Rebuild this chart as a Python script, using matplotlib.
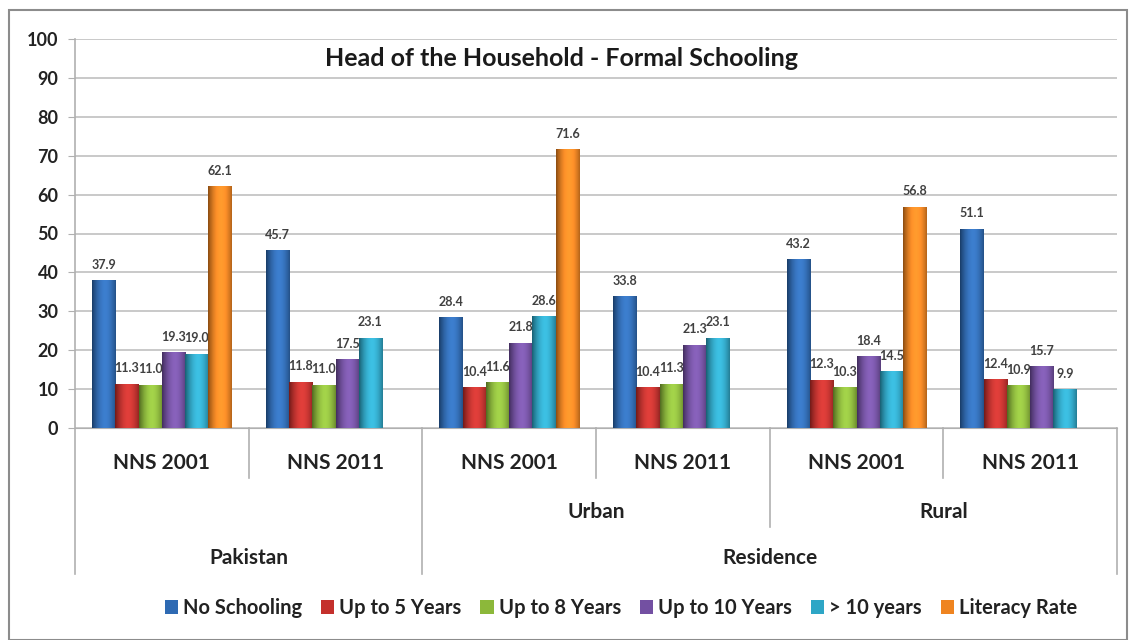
import matplotlib.pyplot as plt
import numpy as np
from matplotlib.colors import to_rgb
from matplotlib.patches import Rectangle

plt.rcParams['font.family'] = ['Lato', 'DejaVu Sans']

# data
surveys = ['NNS 2001', 'NNS 2011', 'NNS 2001', 'NNS 2011', 'NNS 2001', 'NNS 2011']
areas = ['', '', 'Urban', 'Urban', 'Rural', 'Rural']
top_groups = ['Pakistan', 'Residence']
series = ['No Schooling', 'Up to 5 Years', 'Up to 8 Years', 'Up to 10 Years', '> 10 years', 'Literacy Rate']

no_schooling = [37.9, 45.7, 28.4, 33.8, 43.2, 51.1]
up_to_5 = [11.3, 11.8, 10.4, 10.4, 12.3, 12.4]
up_to_8 = [11.0, 11.0, 11.6, 11.3, 10.3, 10.9]
up_to_10 = [19.3, 17.5, 21.8, 21.3, 18.4, 15.7]
over_10 = [19.0, 23.1, 28.6, 23.1, 14.5, 9.9]
literacy = [62.1, np.nan, 71.6, np.nan, 56.8, np.nan]

values = [no_schooling, up_to_5, up_to_8, up_to_10, over_10, literacy]
colors = ['#2e6ab3', '#c4302c', '#8cb83a', '#7350a2', '#2ea6c6', '#ef8420']


def shaded(color, n=40):
    # cylinder-like horizontal shading: darker edges, lighter middle
    base = np.array(to_rgb(color))
    t = np.linspace(-1, 1, n)
    light = 1 - np.abs(t - 0.1) ** 1.8
    light = light / light.max()
    dark = base * 0.68
    row = dark[None, :] + (base[None, :] * 1.1 + 0.04 - dark[None, :]) * light[:, None]
    return np.clip(row, 0, 1)[None, :, :]


fig = plt.figure(figsize=(11.3, 6.4), dpi=100)
# outer frame
fig.patches.append(Rectangle((9 / 1130, 0), 1118 / 1130, 630 / 640, transform=fig.transFigure,
                             fill=False, edgecolor='#8c8c8c', linewidth=1.5))

ax = fig.add_axes([75 / 1130, 212 / 640, 1042 / 1130, 389 / 640])
x = np.arange(len(surveys))
w = 0.134
for i, (name, vals, c) in enumerate(zip(series, values, colors)):
    pos = x - 2.5 * w + i * w
    bars = ax.bar(pos, vals, width=w, color=c, edgecolor='none', label=name, zorder=3)
    for bar, p, v in zip(bars, pos, vals):
        if np.isnan(v):
            continue
        ax.imshow(shaded(c), extent=(p - w / 2, p + w / 2, 0, v), aspect='auto',
                  zorder=3.5, interpolation='bilinear')
        ax.annotate(f'{v:.1f}', (p, v), xytext=(0, 7), textcoords='offset points',
                    ha='center', va='bottom', fontsize=9, fontweight='bold', color='#404040')

ax.set_xlim(-0.5, len(surveys) - 0.5)
ax.set_ylim(0, 100)
ax.set_yticks(range(0, 101, 10))
ax.yaxis.grid(True, color='#c0c0c0', linewidth=1.2, zorder=0)
ax.set_axisbelow(True)
ax.tick_params(axis='y', length=5, color='#b0b0b0', labelsize=13, pad=7)
for lab in ax.get_yticklabels():
    lab.set_fontweight('bold')
    lab.set_color('#222222')
ax.set_xticks([])
for s in ['top', 'right']:
    ax.spines[s].set_visible(False)
ax.spines['left'].set_visible(False)
ax.spines['bottom'].set_color('#b0b0b0')

ax.text(0.467, 0.951, 'Head of the Household - Formal Schooling', transform=ax.transAxes,
        ha='center', va='center', fontsize=18, fontweight='bold', color='#1a1a1a')

# multi-level category axis
tr = ax.get_xaxis_transform()
line_kw = dict(color='#b0b0b0', linewidth=1.2, transform=tr, clip_on=False)
ax.plot([-0.5, -0.5], [1.0, -0.375], **line_kw)
ax.plot([5.5, 5.5], [0.0, -0.375], **line_kw)
ax.plot([1.5, 1.5], [0.0, -0.375], **line_kw)
ax.plot([3.5, 3.5], [0.0, -0.255], **line_kw)
for b in [0.5, 2.5, 4.5]:
    ax.plot([b, b], [0.0, -0.128], **line_kw)
lab_kw = dict(transform=tr, ha='center', va='center', fontsize=15, fontweight='bold',
              color='#222222')
for xi, s in zip(x, surveys):
    ax.text(xi, -0.09, s, **lab_kw)
ax.text(2.5, -0.217, areas[2], **lab_kw)
ax.text(4.5, -0.217, areas[4], **lab_kw)
ax.text(0.5, -0.335, top_groups[0], **lab_kw)
ax.text(3.5, -0.335, top_groups[1], **lab_kw)

leg = fig.legend(loc='center', bbox_to_anchor=(621 / 1130, 1 - 608 / 640), ncol=6,
                 frameon=False, handlelength=0.65, handleheight=0.65, handletextpad=0.25,
                 columnspacing=0.95, prop={'size': 14.5, 'weight': 'bold'})
for t in leg.get_texts():
    t.set_color('#222222')

fig.savefig('out.png', dpi=100)
